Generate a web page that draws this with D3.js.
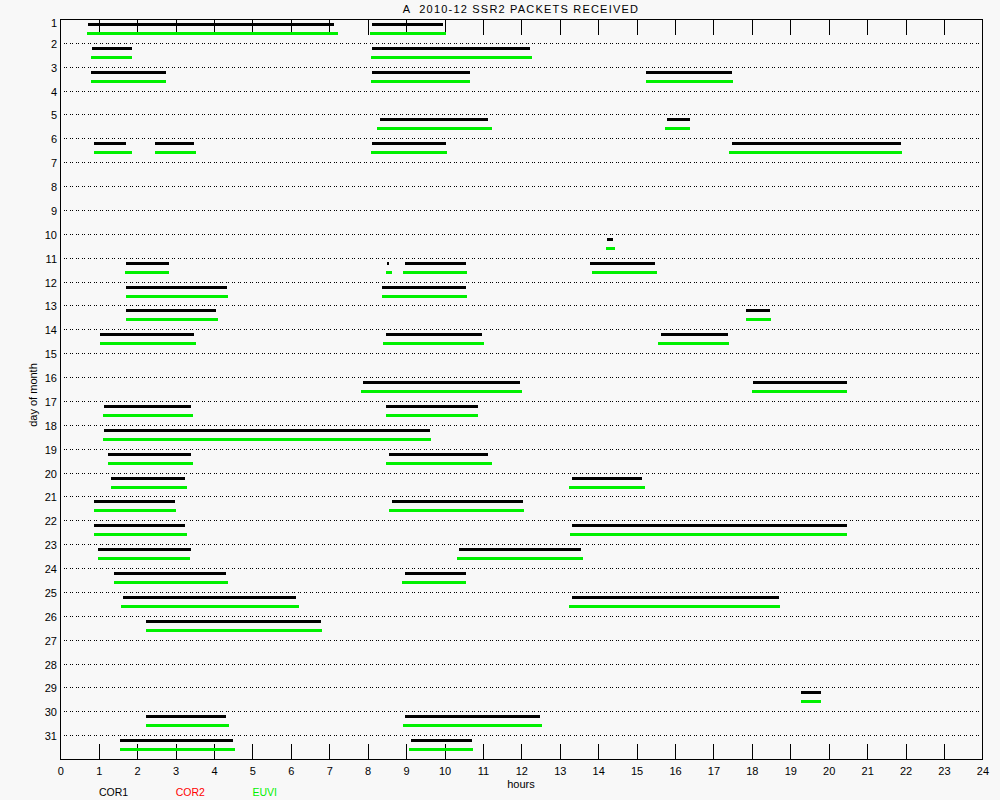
<!DOCTYPE html>
<html>
<head>
<meta charset="utf-8">
<script src="https://cdn.jsdelivr.net/npm/d3@7"></script>
<style>
  body { margin: 0; background: #f8f8f8; }
  svg { display: block; }
  text { font-family: "Liberation Sans", Arial, sans-serif; fill: #000; }
</style>
</head>
<body>
<svg width="1000" height="800"></svg>
<script>
// day of month, start hour, end hour
const cor1Segments = [
  [1, 0.73, 7.13], [1, 8.12, 9.97],
  [2, 0.83, 1.87], [2, 8.12, 12.23],
  [3, 0.81, 2.76], [3, 8.12, 10.67], [3, 15.24, 17.48],
  [5, 8.33, 11.14], [5, 15.79, 16.39],
  [6, 0.88, 1.72], [6, 2.47, 3.49], [6, 8.12, 10.04], [6, 17.48, 21.88],
  [10, 14.23, 14.39],
  [11, 1.72, 2.84], [11, 8.51, 8.56], [11, 8.98, 10.56], [11, 13.79, 15.48],
  [12, 1.72, 4.35], [12, 8.38, 10.56],
  [13, 1.72, 4.06], [13, 17.85, 18.47],
  [14, 1.04, 3.49], [14, 8.48, 10.98], [14, 15.63, 17.38],
  [16, 7.88, 11.97], [16, 18.03, 20.48],
  [17, 1.14, 3.41], [17, 8.48, 10.88],
  [18, 1.14, 9.63],
  [19, 1.25, 3.41], [19, 8.56, 11.14],
  [20, 1.33, 3.25], [20, 13.32, 15.14],
  [21, 0.88, 2.99], [21, 8.64, 12.04],
  [22, 0.88, 3.25], [22, 13.32, 20.48],
  [23, 0.99, 3.41], [23, 10.38, 13.55],
  [24, 1.41, 4.32], [24, 8.98, 10.56],
  [25, 1.64, 6.14], [25, 13.32, 18.70],
  [26, 2.24, 6.79],
  [29, 19.28, 19.80],
  [30, 2.24, 4.32], [30, 8.98, 12.49],
  [31, 1.56, 4.50], [31, 9.13, 10.72]
];

const euviSegments = [
  [1, 0.70, 7.23], [1, 8.07, 10.04],
  [2, 0.81, 1.87], [2, 8.09, 12.28],
  [3, 0.81, 2.76], [3, 8.09, 10.67], [3, 15.24, 17.51],
  [5, 8.25, 11.24], [5, 15.74, 16.39],
  [6, 0.88, 1.87], [6, 2.47, 3.54], [6, 8.09, 10.07], [6, 17.40, 21.91],
  [10, 14.20, 14.44],
  [11, 1.69, 2.84], [11, 8.48, 8.64], [11, 8.92, 10.59], [11, 13.84, 15.53],
  [12, 1.72, 4.37], [12, 8.38, 10.59],
  [13, 1.72, 4.11], [13, 17.85, 18.50],
  [14, 1.04, 3.54], [14, 8.40, 11.03], [14, 15.56, 17.40],
  [16, 7.83, 12.02], [16, 18.00, 20.48],
  [17, 1.12, 3.46], [17, 8.48, 10.88],
  [18, 1.12, 9.65],
  [19, 1.25, 3.46], [19, 8.48, 11.24],
  [20, 1.33, 3.30], [20, 13.24, 15.22],
  [21, 0.88, 3.02], [21, 8.56, 12.07],
  [22, 0.88, 3.30], [22, 13.27, 20.48],
  [23, 0.99, 3.38], [23, 10.33, 13.60],
  [24, 1.41, 4.37], [24, 8.90, 10.56],
  [25, 1.59, 6.22], [25, 13.24, 18.73],
  [26, 2.24, 6.82],
  [29, 19.28, 19.80],
  [30, 2.24, 4.40], [30, 8.92, 12.54],
  [31, 1.56, 4.55], [31, 9.08, 10.75]
];

const hourTicks = d3.range(0, 25);
const dayTicks = d3.range(1, 32);
const legendItems = [
  { label: "COR1", color: "#000000" },
  { label: "COR2", color: "#ff0000" },
  { label: "EUVI", color: "#00f000" }
];

const svg = d3.select("svg");
const x = d3.scaleLinear().domain([0, 24]).range([60.3, 982.4]);
const y = d3.scaleLinear().domain([1, 32]).range([19, 759]);
const py = (d) => Math.round(y(d));

// dotted day gridlines
svg.append("g").selectAll("line")
  .data(dayTicks.slice(1))
  .enter().append("line")
  .attr("x1", x(0) + 3.7)
  .attr("x2", x(24) - 3)
  .attr("y1", (d) => py(d) + 0.5)
  .attr("y2", (d) => py(d) + 0.5)
  .attr("stroke", "#000")
  .attr("stroke-width", 1)
  .attr("stroke-dasharray", "1,1,1,3")
  .attr("shape-rendering", "crispEdges");

// plot frame
svg.append("rect")
  .attr("x", Math.round(x(0)) + 0.5)
  .attr("y", py(1) + 0.5)
  .attr("width", Math.round(x(24)) - Math.round(x(0)))
  .attr("height", py(32) - py(1))
  .attr("fill", "none")
  .attr("stroke", "#000")
  .attr("stroke-width", 1)
  .attr("shape-rendering", "crispEdges");

// bottom axis, ticks pointing up into the plot
const bottomAxis = svg.append("g")
  .attr("transform", "translate(0," + py(32) + ")")
  .call(d3.axisBottom(x).tickValues(hourTicks).tickSizeInner(-15).tickSizeOuter(0).tickPadding(8));
bottomAxis.select(".domain").remove();
bottomAxis.selectAll("line").attr("stroke", "#000").attr("shape-rendering", "crispEdges")
  .filter((d) => d === 0 || d === 24).remove();
bottomAxis.selectAll("text").attr("font-size", 11).attr("font-family", "Liberation Sans, sans-serif");

// top axis, ticks pointing down, no labels
const topAxis = svg.append("g")
  .attr("transform", "translate(0," + py(1) + ")")
  .call(d3.axisTop(x).tickValues(hourTicks.slice(1, 24)).tickSizeInner(-16).tickSizeOuter(0).tickFormat(""));
topAxis.select(".domain").remove();
topAxis.selectAll("line").attr("stroke", "#000").attr("shape-rendering", "crispEdges");

// left axis, labels only
const leftAxis = svg.append("g")
  .attr("transform", "translate(" + Math.round(x(0)) + ",0)")
  .call(d3.axisLeft(y).tickValues(dayTicks).tickSize(0).tickPadding(3));
leftAxis.select(".domain").remove();
leftAxis.selectAll(".tick").attr("transform", (d) => "translate(0," + (py(d) + (d === 1 ? 4.5 : 1)) + ")");
leftAxis.selectAll("text").attr("font-size", 11).attr("font-family", "Liberation Sans, sans-serif");

// COR1 (black) and EUVI (green) coverage bars
svg.append("g").selectAll("rect")
  .data(cor1Segments)
  .enter().append("rect")
  .attr("x", (d) => Math.round(x(d[1])))
  .attr("width", (d) => Math.max(2, Math.round(x(d[2])) - Math.round(x(d[1]))))
  .attr("y", (d) => py(d[0]) + 4)
  .attr("height", 3)
  .attr("fill", legendItems[0].color)
  .attr("shape-rendering", "crispEdges");

svg.append("g").selectAll("rect")
  .data(euviSegments)
  .enter().append("rect")
  .attr("x", (d) => Math.round(x(d[1])))
  .attr("width", (d) => Math.max(2, Math.round(x(d[2])) - Math.round(x(d[1]))))
  .attr("y", (d) => py(d[0]) + 13)
  .attr("height", 3)
  .attr("fill", legendItems[2].color)
  .attr("shape-rendering", "crispEdges");

// titles
svg.append("text")
  .attr("x", 521)
  .attr("y", 13)
  .attr("text-anchor", "middle")
  .attr("font-size", 11)
  .attr("letter-spacing", 1.2)
  .attr("xml:space", "preserve")
  .style("white-space", "pre")
  .text("A  2010-12 SSR2 PACKETS RECEIVED");

svg.append("text")
  .attr("x", 521)
  .attr("y", 788)
  .attr("text-anchor", "middle")
  .attr("font-size", 11)
  .text("hours");

svg.append("text")
  .attr("transform", "translate(37," + ((py(1) + py(32)) / 2 + 6) + ") rotate(-90)")
  .attr("text-anchor", "middle")
  .attr("font-size", 11)
  .text("day of month");

// legend
svg.append("g").selectAll("text")
  .data(legendItems)
  .enter().append("text")
  .attr("x", (d, i) => 99 + i * 76.7)
  .attr("y", 796)
  .attr("font-size", 10.5)
  .style("fill", (d) => d.color)
  .text((d) => d.label);
</script>
</body>
</html>
